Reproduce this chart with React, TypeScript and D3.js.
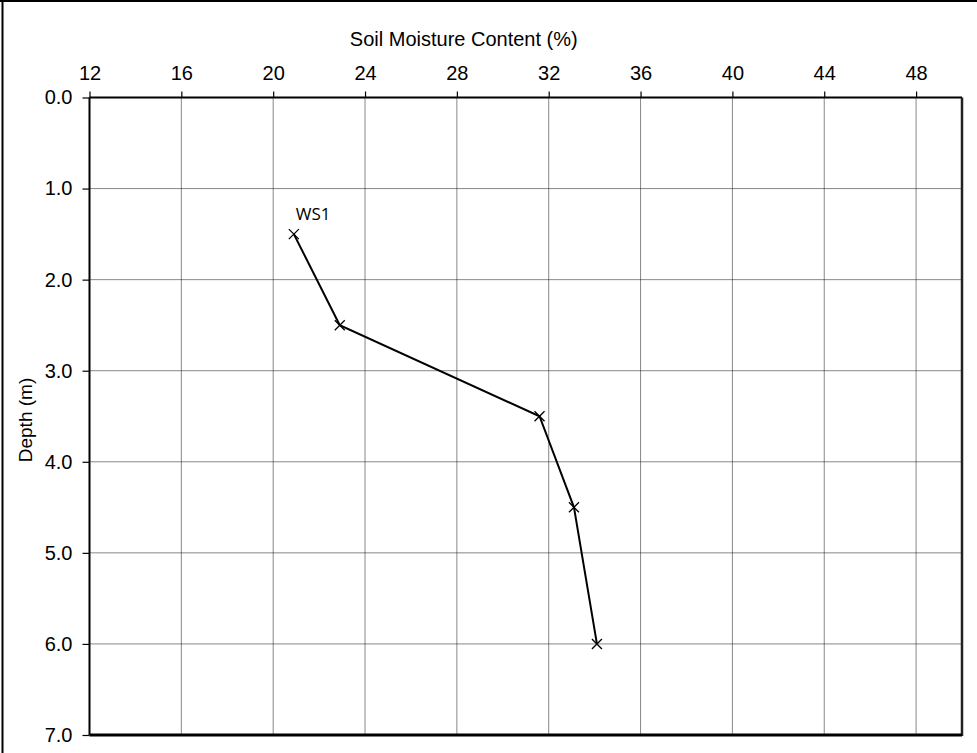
import React, { useEffect, useRef } from "react";
import * as d3 from "d3";

const moisture = [20.9, 22.9, 31.6, 33.1, 34.1];
const depth = [1.5, 2.5, 3.5, 4.5, 6.0];
const xTicks = [12, 16, 20, 24, 28, 32, 36, 40, 44, 48];
const yTicks = [0, 1, 2, 3, 4, 5, 6, 7];
const seriesName = "WS1";

const App = () => {
  const ref = useRef<SVGSVGElement>(null);

  useEffect(() => {
    const svg = d3.select(ref.current);
    svg.selectAll("*").remove();

    const width = 977;
    const height = 753;
    const left = 89.5, right = 962, top = 97.5, bottom = 735;

    svg.attr("width", width).attr("height", height);

    const x = d3.scaleLinear().domain([12, 50]).range([left, right]);
    const y = d3.scaleLinear().domain([0, 7]).range([top, bottom]);

    // outer frame (left + top visible)
    svg.append("line").attr("x1", 2.5).attr("x2", 2.5).attr("y1", 0).attr("y2", height)
      .attr("stroke", "#000").attr("stroke-width", 2);
    svg.append("line").attr("x1", 0).attr("x2", width).attr("y1", 1).attr("y2", 1)
      .attr("stroke", "#000").attr("stroke-width", 2);

    // grid
    svg.append("g").selectAll("line")
      .data(xTicks.slice(1))
      .enter().append("line")
      .attr("x1", (d) => x(d)).attr("x2", (d) => x(d))
      .attr("y1", top).attr("y2", bottom)
      .attr("stroke", "#111").attr("stroke-width", 1).attr("stroke-dasharray", "1,1");
    svg.append("g").selectAll("line")
      .data(yTicks.slice(1, -1))
      .enter().append("line")
      .attr("x1", left).attr("x2", right)
      .attr("y1", (d) => y(d)).attr("y2", (d) => y(d))
      .attr("stroke", "#111").attr("stroke-width", 1).attr("stroke-dasharray", "1,1");

    // axes
    const xAxis = svg.append("g")
      .attr("transform", `translate(0,${top})`)
      .call(d3.axisTop(x).tickValues(xTicks).tickSize(6).tickPadding(12).tickFormat(d3.format("d")));
    const yAxis = svg.append("g")
      .attr("transform", `translate(${left},0)`)
      .call(d3.axisLeft(y).tickValues(yTicks).tickSize(7).tickPadding(10).tickFormat(d3.format(".1f")));

    [xAxis, yAxis].forEach((g) => {
      g.select(".domain").remove();
      g.selectAll("line").attr("stroke", "#000").attr("stroke-width", 1.2);
      g.selectAll("text")
        .attr("fill", "#000")
        .style("font-family", "'Liberation Sans', Arial, sans-serif")
        .style("font-size", "20px");
    });

    // plot border
    svg.append("line").attr("x1", left).attr("x2", right).attr("y1", top).attr("y2", top)
      .attr("stroke", "#000").attr("stroke-width", 2);
    svg.append("line").attr("x1", left).attr("x2", left).attr("y1", top).attr("y2", bottom)
      .attr("stroke", "#000").attr("stroke-width", 2);
    svg.append("line").attr("x1", right).attr("x2", right).attr("y1", top).attr("y2", bottom + 1)
      .attr("stroke", "#222").attr("stroke-width", 2.5);
    svg.append("line").attr("x1", left).attr("x2", right).attr("y1", bottom).attr("y2", bottom)
      .attr("stroke", "#000").attr("stroke-width", 3);

    // titles
    svg.append("text")
      .attr("x", (left + right) / 2 - 62).attr("y", 46)
      .attr("text-anchor", "middle")
      .style("font-family", "'Liberation Sans', Arial, sans-serif")
      .style("font-size", "20px")
      .text("Soil Moisture Content (%)");
    svg.append("text")
      .attr("transform", `translate(32,${420}) rotate(-90)`)
      .attr("text-anchor", "middle")
      .style("font-family", "'Liberation Sans', Arial, sans-serif")
      .style("font-size", "19px")
      .text("Depth (m)");

    // series
    const pts = moisture.map((m, i) => [m, depth[i]] as [number, number]);
    const line = d3.line<[number, number]>().x((d) => x(d[0])).y((d) => y(d[1]));
    svg.append("path").datum(pts)
      .attr("d", line)
      .attr("fill", "none").attr("stroke", "#000").attr("stroke-width", 2);

    const s = 5;
    svg.append("g").selectAll("path")
      .data(pts)
      .enter().append("path")
      .attr("d", (d) => {
        const cx = x(d[0]), cy = y(d[1]);
        return `M${cx - s},${cy - s}L${cx + s},${cy + s}M${cx - s},${cy + s}L${cx + s},${cy - s}`;
      })
      .attr("stroke", "#000").attr("stroke-width", 1.3);

    svg.append("text")
      .attr("x", x(moisture[0]) + 2).attr("y", y(depth[0]) - 14)
      .style("font-family", "'Open Sans', 'Noto Sans', sans-serif")
      .style("font-size", "17px")
      .text(seriesName);
  }, []);

  return <svg ref={ref} style={{ position: "absolute", left: 0, top: 0 }}></svg>;
};

export default App;
